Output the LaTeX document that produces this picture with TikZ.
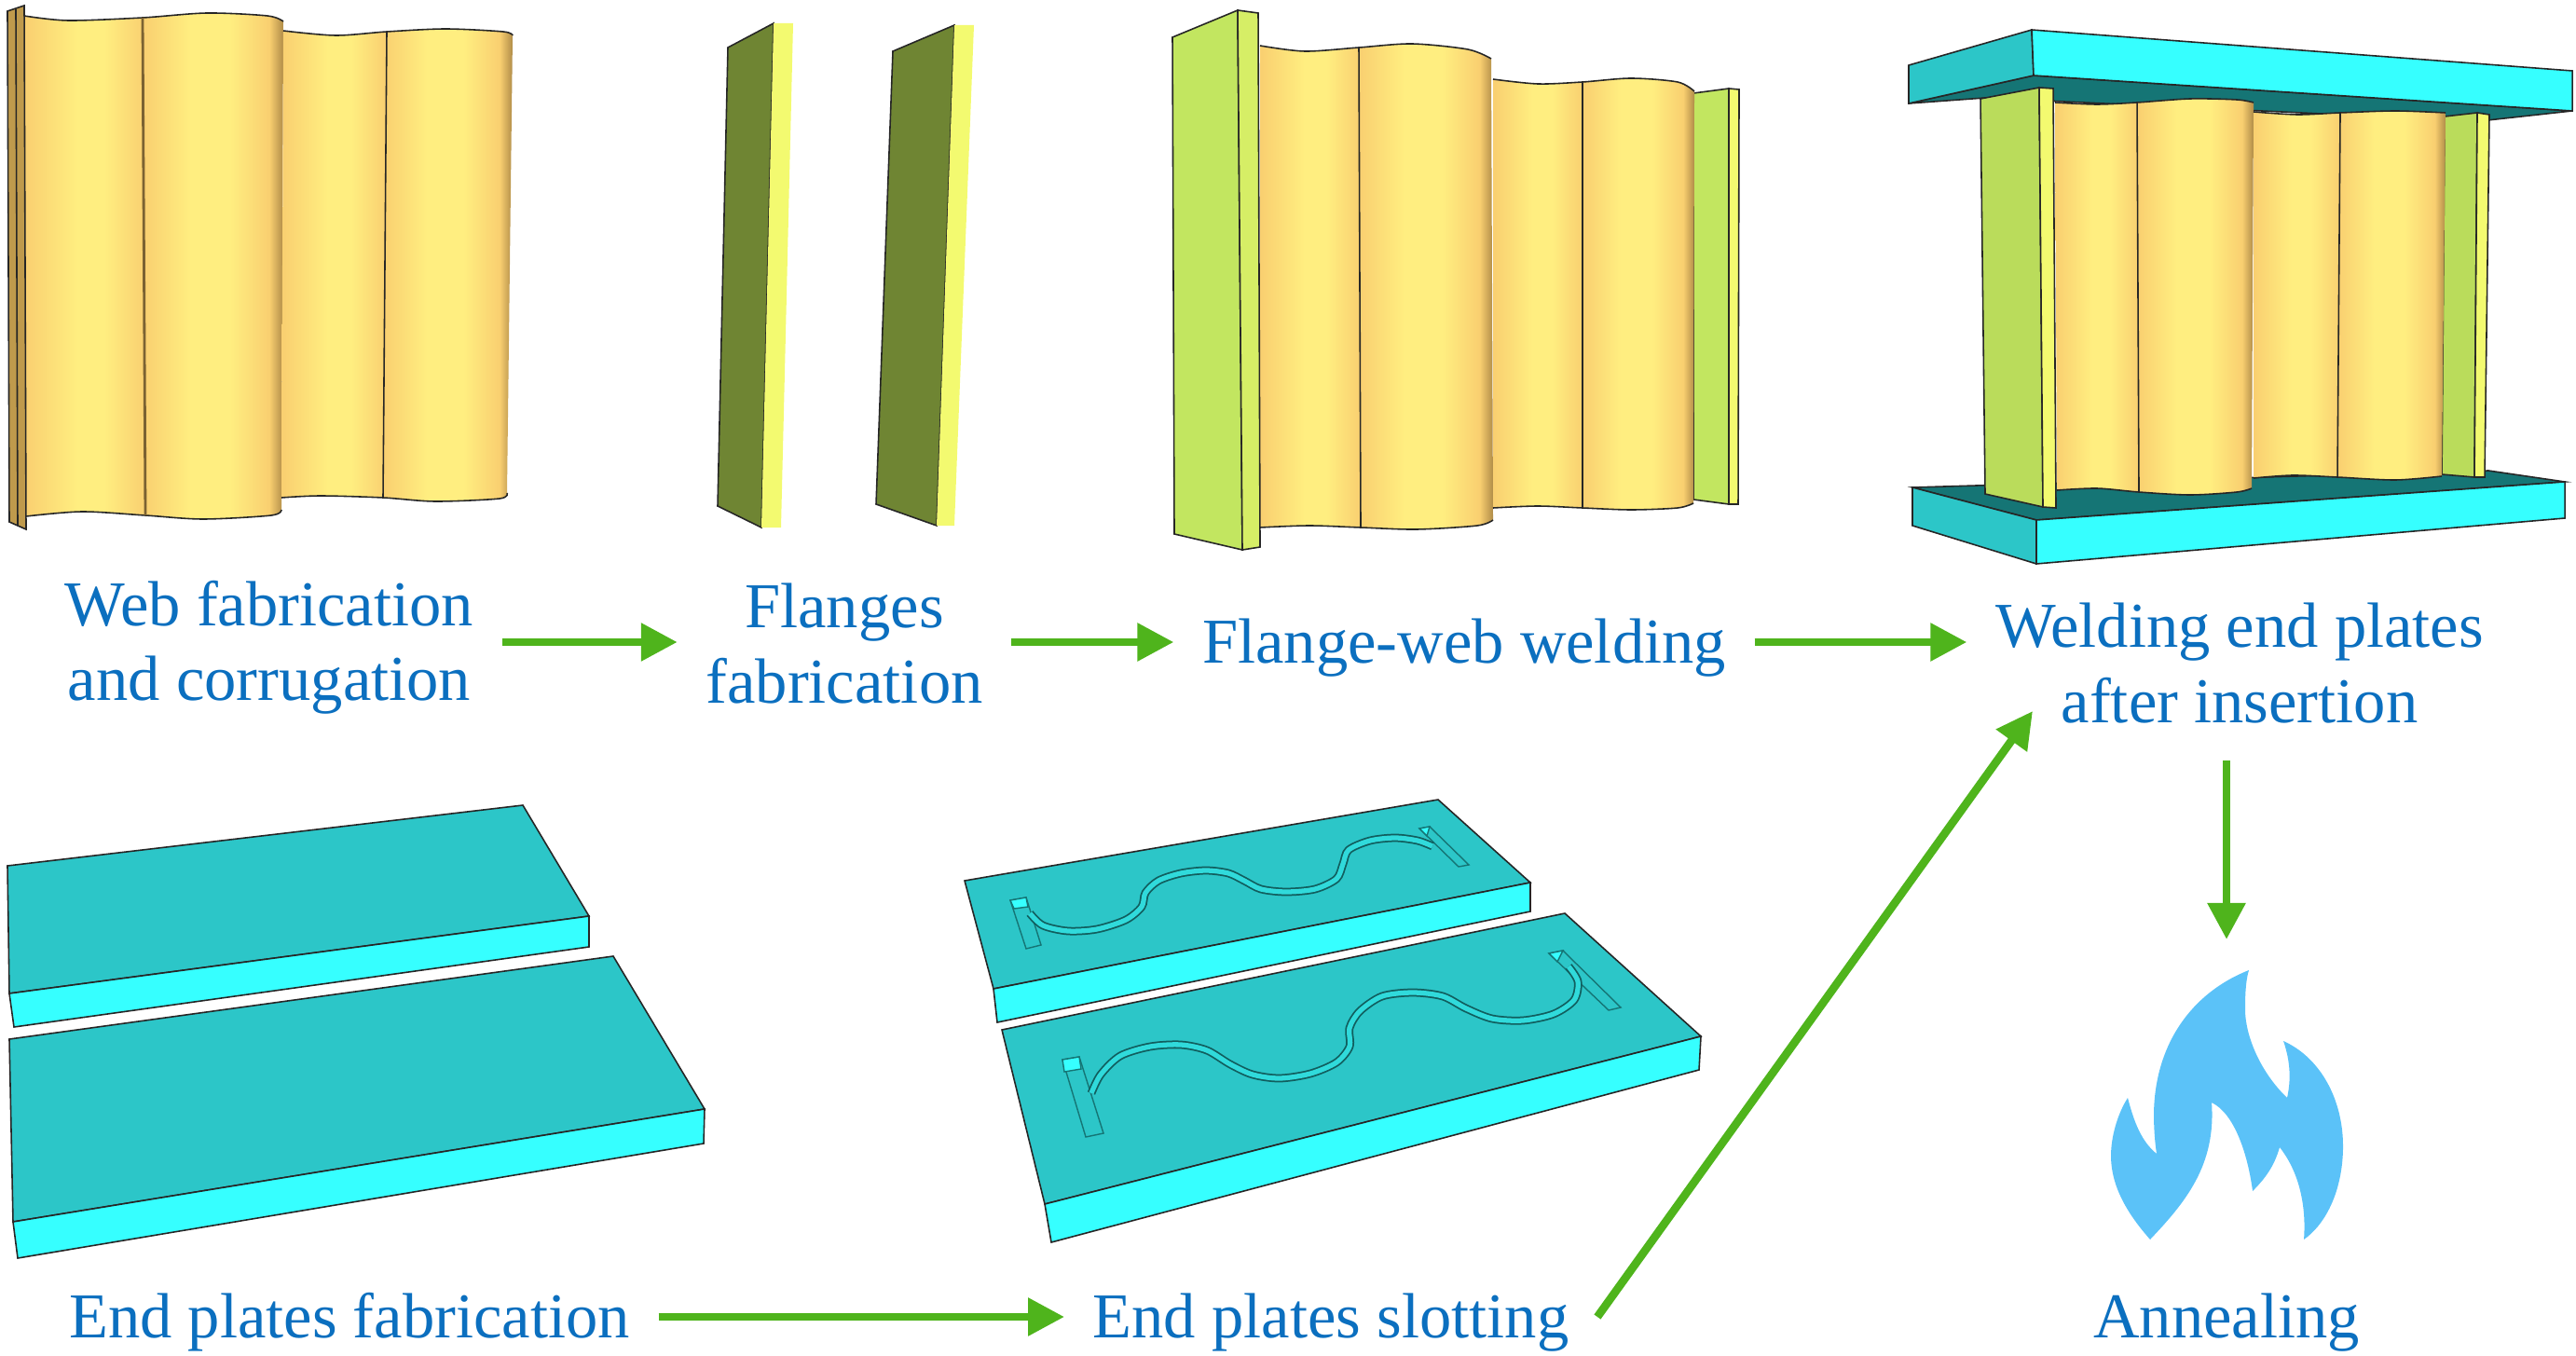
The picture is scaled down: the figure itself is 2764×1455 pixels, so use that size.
\documentclass[tikz,border=0pt]{standalone}
\usepackage{fontspec}
\setmainfont{Liberation Serif}
\usetikzlibrary{arrows.meta}

\definecolor{labelblue}{HTML}{0B6FBF}
\definecolor{flowgreen}{HTML}{4FB41C}
\definecolor{flameblue}{HTML}{5BC2F8}
\definecolor{plateface}{HTML}{2CC6C8}
\definecolor{platedark}{HTML}{157575}
\definecolor{platecyan}{HTML}{36FFFF}
\definecolor{webside}{HTML}{F9CF70}
\definecolor{weblight}{HTML}{FFEE80}
\definecolor{webshadow}{HTML}{B08C48}
\definecolor{webstrip}{HTML}{BF9A4C}
\definecolor{flangegreen}{HTML}{C2E660}
\definecolor{flangeolive}{HTML}{6F8533}
\definecolor{flangeyellow}{HTML}{F3FA70}

\pgfdeclarehorizontalshading{webvalley}{100bp}{color(0bp)=(webside); color(25bp)=(webside); color(47bp)=(weblight); color(58bp)=(weblight); color(75bp)=(webside); color(100bp)=(webside)}
\pgfdeclarehorizontalshading{webcrest}{100bp}{color(0bp)=(webside); color(25bp)=(webside); color(42bp)=(weblight); color(56bp)=(weblight); color(70bp)=(webside); color(75bp)=(webshadow); color(100bp)=(webshadow)}

\newcommand{\lblstrut}{\rule[-3pt]{0pt}{20pt}}

\tikzset{
  steplabel/.style={text=labelblue, font=\fontsize{19.5}{23}\selectfont, align=center, inner xsep=0.3cm, inner ysep=0pt},
  flowarrow/.style={draw=flowgreen, line width=0.087cm, -{Triangle[length=0.39cm,width=0.39cm]}},
  edgeline/.style={draw=black!85, line width=0.45pt},
  platetop/.style={fill=plateface, edgeline},
  plateunder/.style={fill=platedark, edgeline},
  platefront/.style={fill=platecyan, edgeline},
  flangeface/.style={fill=flangegreen, edgeline},
  flangeedge/.style={fill=flangeyellow, edgeline},
  slotline/.style={draw=platedark!80!black, line width=0.5pt, double=platecyan!35!plateface, double distance=1.5pt},
  slotbar/.style={fill=plateface, draw=platedark, line width=0.4pt},
  slotcap/.style={fill=platecyan, draw=platedark, line width=0.4pt}
}

\begin{document}
\begin{tikzpicture}[x=0.01cm,y=-0.01cm]

        \useasboundingbox (0,0) rectangle (2764,1455);

        % First web
        \shade[shading=webvalley] plot[smooth] coordinates {(26,17) (73,22) (153,19)} -- plot[smooth] coordinates {(156,553) (88,549) (28,554)} -- cycle;
        \shade[shading=webcrest] plot[smooth] coordinates {(153,19) (222,14) (287,17) (304,23)} -- plot[smooth] coordinates {(302,547) (291,553) (218,557) (156,553)} -- cycle;
        \shade[shading=webvalley] plot[smooth] coordinates {(304,33) (360,38) (415,34)} -- plot[smooth] coordinates {(411,534) (344,532) (302,534)} -- cycle;
        \shade[shading=webcrest] plot[smooth] coordinates {(415,34) (478,31) (540,34) (550,38)} -- plot[smooth] coordinates {(544,529) (536,535) (467,538) (411,534)} -- cycle;
        \draw[edgeline] plot[smooth] coordinates {(26,17) (73,22) (153,19) (222,14) (287,17) (304,23)};
        \draw[edgeline] plot[smooth] coordinates {(304,33) (360,38) (415,34) (478,31) (540,34) (550,38)};
        \draw[edgeline] plot[smooth] coordinates {(28,554) (88,549) (156,553) (218,557) (291,553) (302,547)};
        \draw[edgeline] plot[smooth] coordinates {(302,534) (344,532) (411,534) (467,538) (536,535) (544,529)};
        \draw[edgeline, draw=webshadow!70!black, line width=0.8pt] (153,19) -- (156,553);
        \draw[edgeline] (415,34) -- (411,534);

        % Strip at the end of the first web
        \filldraw[edgeline, fill=webstrip] (8,12) -- (26,6) -- (28,568) -- (10,560) -- cycle;
        \draw[edgeline] (17,10) -- (19,564);

        % Flanges
        \filldraw[edgeline, fill=flangeolive] (781,51) -- (830,25) -- (817,566) -- (770,543) -- cycle;
        \fill[flangeyellow] (830,25) -- (851,25) -- (838,566) -- (817,566) -- cycle;
        \filldraw[edgeline, fill=flangeolive] (958,55) -- (1024,27) -- (1005,564) -- (940,541) -- cycle;
        \fill[flangeyellow] (1024,27) -- (1045,27) -- (1024,564) -- (1005,564) -- cycle;

        % Second web, right flange behind it
        \filldraw[flangeface] (1817,100) -- (1855,95) -- (1855,541) -- (1817,536) -- cycle;
        \filldraw[flangeedge] (1855,95) -- (1866,96) -- (1865,541) -- (1855,541) -- cycle;
        \shade[shading=webvalley] plot[smooth] coordinates {(1352,49) (1400,55) (1458,51)} -- plot[smooth] coordinates {(1460,566) (1405,564) (1352,566)} -- cycle;
        \shade[shading=webcrest] plot[smooth] coordinates {(1458,51) (1515,47) (1575,53) (1600,63)} -- plot[smooth] coordinates {(1602,558) (1585,564) (1520,568) (1460,566)} -- cycle;
        \shade[shading=webvalley] plot[smooth] coordinates {(1602,85) (1650,90) (1698,88)} -- plot[smooth] coordinates {(1698,545) (1650,543) (1602,545)} -- cycle;
        \shade[shading=webcrest] plot[smooth] coordinates {(1698,88) (1750,84) (1800,88) (1818,98)} -- plot[smooth] coordinates {(1817,540) (1800,545) (1750,547) (1698,545)} -- cycle;
        \draw[edgeline] plot[smooth] coordinates {(1352,49) (1400,55) (1458,51) (1515,47) (1575,53) (1600,63)};
        \draw[edgeline] plot[smooth] coordinates {(1602,85) (1650,90) (1698,88) (1750,84) (1800,88) (1818,98)};
        \draw[edgeline] plot[smooth] coordinates {(1352,566) (1405,564) (1460,566) (1520,568) (1585,564) (1602,558)};
        \draw[edgeline] plot[smooth] coordinates {(1602,545) (1650,543) (1698,545) (1750,547) (1800,545) (1817,540)};
        \draw[edgeline] (1458,51) -- (1460,566);
        \draw[edgeline] (1698,88) -- (1698,545);
        \filldraw[flangeface] (1258,40) -- (1328,11) -- (1333,590) -- (1260,573) -- cycle;
        \filldraw[flangeedge, fill=flangegreen!60!flangeyellow] (1328,11) -- (1350,14) -- (1352,587) -- (1333,590) -- cycle;

        % Assembled column, top plate
        \filldraw[plateunder] (2048,111) -- (2182,81) -- (2760,119) -- (2660,130) -- (2130,105) -- cycle;
        \filldraw[platetop] (2048,70) -- (2180,32) -- (2182,81) -- (2048,111) -- cycle;
        \filldraw[platefront] (2180,32) -- (2760,76) -- (2760,119) -- (2182,81) -- cycle;

        % Assembled column, bottom plate
        \filldraw[plateunder] (2052,523) -- (2670,505) -- (2752,517) -- (2185,558) -- cycle;
        \filldraw[platetop] (2052,523) -- (2185,558) -- (2185,605) -- (2052,564) -- cycle;
        \filldraw[platefront] (2185,558) -- (2752,517) -- (2752,556) -- (2185,605) -- cycle;

        % Assembled column, web and flanges
        \filldraw[flangeface, fill=flangegreen!90!flangeolive] (2623,125) -- (2658,121) -- (2655,512) -- (2620,509) -- cycle;
        \filldraw[flangeedge] (2658,121) -- (2671,123) -- (2666,512) -- (2655,512) -- cycle;
        \shade[shading=webvalley] plot[smooth] coordinates {(2205,110) (2250,112) (2293,110)} -- plot[smooth] coordinates {(2295,528) (2250,524) (2207,526)} -- cycle;
        \shade[shading=webcrest] plot[smooth] coordinates {(2293,110) (2350,106) (2400,107) (2418,110)} -- plot[smooth] coordinates {(2416,524) (2400,528) (2350,531) (2295,528)} -- cycle;
        \shade[shading=webvalley] plot[smooth] coordinates {(2418,120) (2465,123) (2511,121)} -- plot[smooth] coordinates {(2508,512) (2460,510) (2418,513)} -- cycle;
        \shade[shading=webcrest] plot[smooth] coordinates {(2511,121) (2570,119) (2624,121)} -- plot[smooth] coordinates {(2620,511) (2570,515) (2508,512)} -- cycle;
        \draw[edgeline] plot[smooth] coordinates {(2205,110) (2250,112) (2293,110) (2350,106) (2400,107) (2418,110)};
        \draw[edgeline] plot[smooth] coordinates {(2418,120) (2465,123) (2511,121) (2570,119) (2624,121)};
        \draw[edgeline] plot[smooth] coordinates {(2207,526) (2250,524) (2295,528) (2350,531) (2400,528) (2416,524)};
        \draw[edgeline] plot[smooth] coordinates {(2418,513) (2460,510) (2508,512) (2570,515) (2620,511)};
        \draw[edgeline] (2293,110) -- (2295,528);
        \draw[edgeline] (2511,121) -- (2508,512);
        \filldraw[flangeface, fill=flangegreen!90!flangeolive] (2125,106) -- (2188,94) -- (2192,544) -- (2130,530) -- cycle;
        \filldraw[flangeedge] (2188,94) -- (2203,95) -- (2206,545) -- (2192,544) -- cycle;

        % Plain end plates
        \filldraw[platetop] (8,929) -- (561,864) -- (632,983) -- (10,1066) -- cycle;
        \filldraw[platefront] (10,1066) -- (632,983) -- (632,1016) -- (15,1102) -- cycle;
        \filldraw[platetop] (10,1115) -- (658,1026) -- (756,1190) -- (14,1311) -- cycle;
        \filldraw[platefront] (14,1311) -- (756,1190) -- (755,1227) -- (19,1350) -- cycle;

        % Slotted end plates, upper
        \filldraw[platetop] (1035,945) -- (1543,858) -- (1642,947) -- (1066,1061) -- cycle;
        \filldraw[platefront] (1066,1061) -- (1642,947) -- (1642,978) -- (1070,1097) -- cycle;
        \filldraw[slotbar] (1084,966) -- (1101,963) -- (1117,1014) -- (1101,1018) -- cycle;
        \filldraw[slotcap] (1084,966) -- (1101,963) -- (1103,973) -- (1088,975) -- cycle;
        \filldraw[slotbar] (1523,889) -- (1534,887) -- (1576,928) -- (1565,930) -- cycle;
        \filldraw[slotcap] (1523,889) -- (1534,887) -- (1531,897) -- cycle;
        \draw[slotline] plot[smooth] coordinates {(1105,980) (1119,993) (1146,999) (1177,997) (1208,987) (1225,973) (1229,958) (1243,945) (1267,937) (1294,934) (1318,937) (1335,945) (1353,954) (1380,957) (1411,954) (1434,943) (1441,927) (1447,912) (1470,902) (1497,899) (1521,902) (1537,908)};

        % Slotted end plates, lower
        \filldraw[platetop] (1075,1105) -- (1679,980) -- (1825,1112) -- (1121,1292) -- cycle;
        \filldraw[platefront] (1121,1292) -- (1825,1112) -- (1823,1148) -- (1128,1333) -- cycle;
        \filldraw[slotbar] (1140,1137) -- (1158,1134) -- (1184,1216) -- (1165,1220) -- cycle;
        \filldraw[slotcap] (1140,1137) -- (1158,1134) -- (1160,1147) -- (1142,1150) -- cycle;
        \filldraw[slotbar] (1662,1023) -- (1677,1020) -- (1739,1081) -- (1726,1084) -- cycle;
        \filldraw[slotcap] (1662,1023) -- (1677,1020) -- (1671,1032) -- cycle;
        \draw[slotline] plot[smooth] coordinates {(1171,1173) (1181,1153) (1202,1133) (1234,1123) (1267,1121) (1295,1127) (1320,1142) (1344,1153) (1373,1157) (1406,1152) (1434,1140) (1448,1123) (1448,1103) (1459,1085) (1483,1069) (1516,1065) (1548,1069) (1573,1082) (1601,1093) (1634,1095) (1667,1088) (1689,1073) (1693,1053) (1683,1037)};

        % Flame
        \fill[flameblue] (2413,1041) .. controls (2352,1065) and (2312,1120) .. (2311,1195)
            .. controls (2311,1210) and (2312,1225) .. (2314,1238)
            .. controls (2298,1225) and (2290,1205) .. (2283,1178)
            .. controls (2272,1195) and (2265,1220) .. (2265,1240)
            .. controls (2265,1275) and (2285,1305) .. (2307,1330)
            .. controls (2345,1290) and (2378,1250) .. (2373,1183)
            .. controls (2398,1195) and (2412,1240) .. (2417,1278)
            .. controls (2430,1265) and (2440,1252) .. (2446,1231)
            .. controls (2465,1255) and (2475,1290) .. (2472,1330)
            .. controls (2500,1310) and (2514,1270) .. (2514,1230)
            .. controls (2514,1180) and (2490,1135) .. (2450,1117)
            .. controls (2458,1140) and (2458,1160) .. (2454,1178)
            .. controls (2425,1150) and (2408,1110) .. (2409,1080)
            .. controls (2409,1065) and (2410,1050) .. (2413,1041) -- cycle;

        % Labels
        \node[steplabel] (webtxt) at (289,689) {\lblstrut Web fabrication\\\lblstrut and corrugation};
        \node[steplabel] (flangetxt) at (906,689) {\lblstrut Flanges\\\lblstrut fabrication};
        \node[steplabel] (joinedtxt) at (1571,689) {\lblstrut Flange-web welding};
        \node[steplabel] (endweldtxt) at (2403,710) {\lblstrut Welding end plates\\\lblstrut after insertion};
        \node[steplabel] (platetxt) at (375,1413) {\lblstrut End plates fabrication};
        \node[steplabel] (slottxt) at (1428,1413) {\lblstrut End plates slotting};
        \node[steplabel] (annealtxt) at (2389,1413) {\lblstrut Annealing};

        % Arrow ends that touch no label
        \coordinate (endweldin) at (2181,763);
        \coordinate (endweldout) at (2389,816);
        \coordinate (flametop) at (2389,1008);

        % Flow
        \draw[flowarrow] (webtxt.east) -- (flangetxt.west);
        \draw[flowarrow] (flangetxt.east) -- (joinedtxt.west);
        \draw[flowarrow] (joinedtxt.east) -- (joinedtxt.east -| endweldtxt.west);
        \draw[flowarrow] (endweldout) -- (flametop);
        \draw[flowarrow] (platetxt.east) -- (slottxt.west);
        \draw[flowarrow] (slottxt.east) -- (endweldin);

    \end{tikzpicture}
\end{document}
